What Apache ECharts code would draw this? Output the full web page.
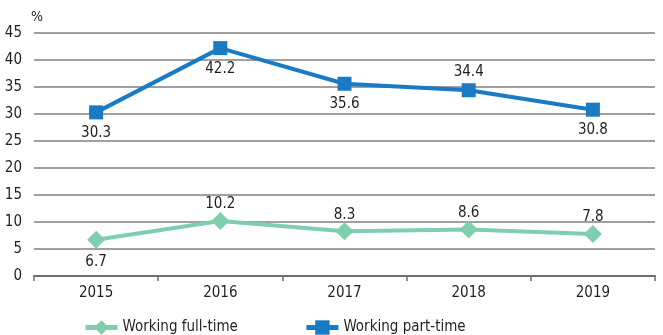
<!DOCTYPE html>
<html>
<head>
<meta charset="utf-8">
<script src="https://cdn.jsdelivr.net/npm/echarts@6/dist/echarts.min.js"></script>
<style>
  html, body { margin: 0; padding: 0; background: #fff; }
  #chart { width: 663px; height: 335px; }
</style>
</head>
<body>
<div id="chart"></div>
<script>
const years = ['2015', '2016', '2017', '2018', '2019'];
const fullTime = [6.7, 10.2, 8.3, 8.6, 7.8];
const partTime = [30.3, 42.2, 35.6, 34.4, 30.8];
const fullTimeLabelPos = ['bottom', 'top', 'top', 'top', 'top'];
const partTimeLabelPos = ['bottom', 'bottom', 'bottom', 'top', 'bottom'];

const FONT = '"Liberation Sans Narrow", "DejaVu Sans Condensed", sans-serif';
const GREEN = '#7fcfae';
const BLUE = '#1a7ac4';

// Per-point label placement; points above the line sit a little closer.
function withLabels(values, positions, topDist, bottomDist) {
  return values.map((v, i) => ({
    value: v,
    label: { position: positions[i], distance: positions[i] === 'top' ? topDist : bottomDist }
  }));
}

const chart = echarts.init(document.getElementById('chart'), null, { renderer: 'canvas' });
chart.setOption({
  animation: false,
  textStyle: { fontFamily: FONT },
  grid: { left: 34, right: 8, top: 33, bottom: 59, containLabel: false },
  legend: {
    top: 315,
    left: 78,
    itemGap: 66,
    itemWidth: 32,
    itemHeight: 18,
    lineStyle: { width: 5 },
    textStyle: { fontFamily: FONT, fontSize: 15, color: '#231f20' },
    data: ['Working full-time', 'Working part-time']
  },
  graphic: [{
    type: 'text', left: 31, top: 10,
    style: { text: '%', font: '14px ' + FONT, fill: '#231f20' }
  }],
  xAxis: {
    type: 'category',
    data: years,
    boundaryGap: true,
    axisLine: { lineStyle: { color: '#6d6e71', width: 2 } },
    axisTick: { show: true, length: 5, lineStyle: { color: '#6d6e71', width: 1.5 } },
    axisLabel: { fontSize: 15, color: '#231f20', margin: 10, fontFamily: FONT }
  },
  yAxis: {
    type: 'value',
    min: 0, max: 45, interval: 5,
    axisLine: { show: false },
    axisTick: { show: false },
    axisLabel: { fontSize: 15, color: '#231f20', margin: 12, fontFamily: FONT },
    splitLine: { lineStyle: { color: '#808080', width: 1.5 } }
  },
  series: [
    {
      name: 'Working full-time',
      type: 'line',
      data: withLabels(fullTime, fullTimeLabelPos, 0, 6),
      symbol: 'diamond',
      symbolSize: 18,
      itemStyle: { color: GREEN },
      lineStyle: { color: GREEN, width: 4 },
      label: { show: true, fontSize: 15, color: '#231f20', fontFamily: FONT }
    },
    {
      name: 'Working part-time',
      type: 'line',
      data: withLabels(partTime, partTimeLabelPos, 4, 6),
      symbol: 'rect',
      symbolSize: 14,
      itemStyle: { color: BLUE },
      lineStyle: { color: BLUE, width: 4 },
      label: { show: true, fontSize: 15, color: '#231f20', fontFamily: FONT }
    }
  ]
});
</script>
</body>
</html>
